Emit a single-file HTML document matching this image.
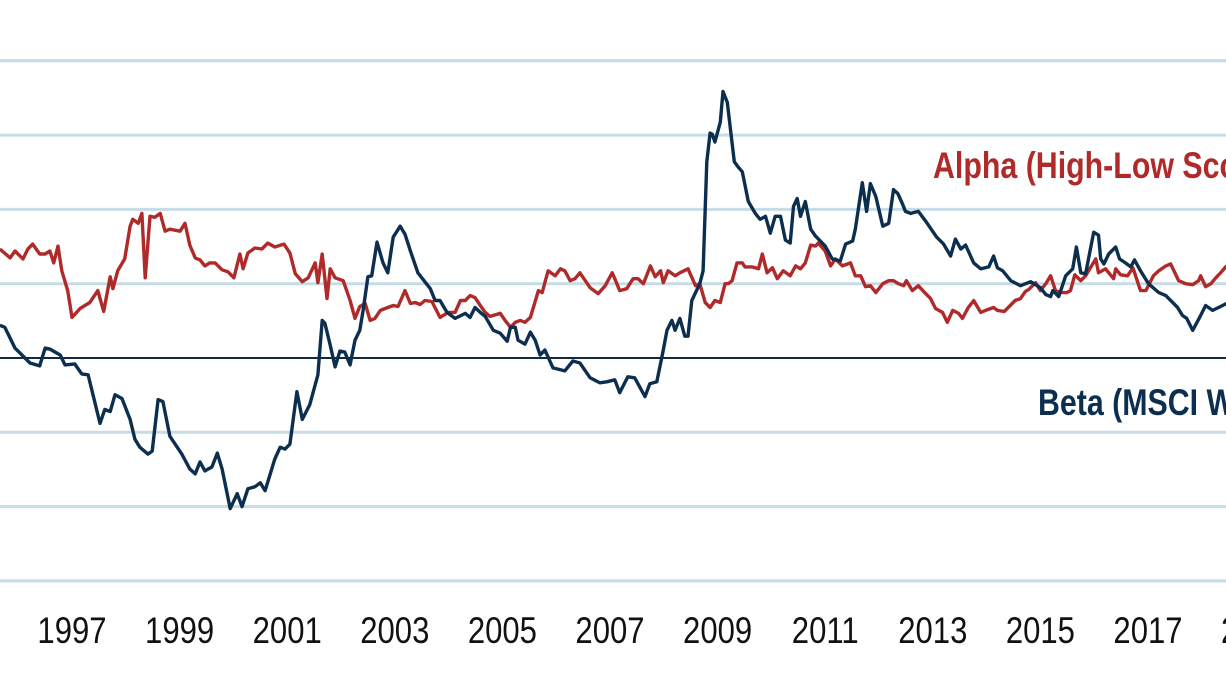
<!DOCTYPE html>
<html><head><meta charset="utf-8"><style>
html,body{margin:0;padding:0;background:#fff;width:1226px;height:690px;overflow:hidden}
svg{display:block}
</style></head><body>
<svg id="chart" width="1226" height="690" viewBox="0 0 1226 690" xmlns="http://www.w3.org/2000/svg">
<g id="grid"></g>
<g id="xaxis"></g>
<g id="series"></g>
<text x="933" y="178" font-family="Liberation Sans, sans-serif" font-weight="bold" font-size="37" fill="#b02a2a" transform="translate(933 0) scale(0.82 1) translate(-933 0)">Alpha (High-Low Score)</text>
<text x="1038" y="415" font-family="Liberation Sans, sans-serif" font-weight="bold" font-size="37" fill="#0d2f4f" transform="translate(1038 0) scale(0.82 1) translate(-1038 0)">Beta (MSCI World)</text>
</svg>
<script>
const tickYears=[1995,1997,1999,2001,2003,2005,2007,2009,2011,2013,2015,2017,2019];
const gridValues=[-225,-150,-75,75,150,225,300];
const betaDates=[1995.66,1995.75,1995.94,1996.22,1996.40,1996.50,1996.59,1996.78,1996.87,1997.05,1997.18,1997.30,1997.52,1997.61,1997.71,1997.80,1997.93,1998.08,1998.17,1998.26,1998.41,1998.49,1998.60,1998.69,1998.82,1999.04,1999.19,1999.29,1999.38,1999.47,1999.60,1999.70,1999.79,1999.94,2000.07,2000.16,2000.27,2000.40,2000.50,2000.59,2000.77,2000.87,2000.96,2001.05,2001.18,2001.28,2001.42,2001.57,2001.65,2001.70,2001.80,2001.89,2001.98,2002.07,2002.17,2002.26,2002.35,2002.41,2002.50,2002.57,2002.67,2002.78,2002.87,2002.97,2003.10,2003.19,2003.29,2003.43,2003.66,2003.75,2003.84,2003.97,2004.12,2004.31,2004.40,2004.49,2004.59,2004.68,2004.83,2004.96,2005.09,2005.15,2005.24,2005.29,2005.42,2005.52,2005.61,2005.70,2005.79,2005.94,2006.16,2006.31,2006.44,2006.63,2006.81,2006.94,2007.09,2007.18,2007.33,2007.46,2007.65,2007.74,2007.87,2007.98,2008.06,2008.15,2008.21,2008.30,2008.39,2008.45,2008.52,2008.67,2008.73,2008.80,2008.86,2008.90,2008.95,2009.05,2009.10,2009.18,2009.31,2009.38,2009.46,2009.57,2009.70,2009.79,2009.89,2009.98,2010.07,2010.17,2010.26,2010.35,2010.41,2010.48,2010.54,2010.63,2010.73,2010.82,2010.91,2011.00,2011.13,2011.28,2011.38,2011.51,2011.56,2011.69,2011.77,2011.84,2011.94,2012.07,2012.18,2012.27,2012.35,2012.44,2012.49,2012.59,2012.73,2012.87,2013.07,2013.20,2013.33,2013.42,2013.52,2013.61,2013.76,2013.89,2014.04,2014.13,2014.20,2014.30,2014.45,2014.63,2014.82,2015.00,2015.10,2015.19,2015.23,2015.34,2015.47,2015.60,2015.67,2015.75,2015.84,2015.99,2016.08,2016.12,2016.18,2016.27,2016.40,2016.47,2016.58,2016.68,2016.75,2016.86,2017.01,2017.20,2017.33,2017.46,2017.55,2017.64,2017.72,2017.83,2017.98,2018.07,2018.20,2018.35,2018.46];
const betaValues=[33,31,10,-5,-8,10,9,3,-7,-6,-16,-17,-66,-52,-54,-37,-41,-62,-82,-90,-97,-94,-42,-44,-79,-97,-112,-117,-105,-114,-110,-96,-112,-152,-137,-150,-132,-130,-126,-134,-102,-90,-92,-87,-34,-62,-47,-17,38,35,13,-9,7,6,-7,18,28,48,82,83,117,96,86,122,133,125,108,86,70,58,58,46,40,45,41,51,46,42,28,25,17,31,31,18,14,26,18,3,8,-10,-13,-3,-5,-20,-25,-24,-22,-35,-19,-20,-39,-26,-24,5,28,38,28,40,22,22,58,75,88,198,227,226,218,238,269,258,198,193,188,158,146,140,143,126,143,143,119,116,153,161,143,158,130,123,118,113,100,98,115,118,130,177,148,176,163,133,136,170,166,155,148,146,148,138,122,115,103,120,110,114,96,90,92,103,91,88,78,73,77,71,64,62,68,62,83,90,112,86,85,127,124,100,95,105,112,100,96,92,99,88,75,66,63,56,51,43,40,28,43,53,48,52,55];
const alphaDates=[1995.66,1995.85,1995.94,1996.09,1996.18,1996.27,1996.40,1996.50,1996.59,1996.66,1996.74,1996.81,1996.92,1997.00,1997.15,1997.33,1997.48,1997.59,1997.71,1997.76,1997.85,1997.98,1998.08,1998.13,1998.23,1998.30,1998.36,1998.45,1998.54,1998.64,1998.73,1998.82,1999.01,1999.10,1999.19,1999.29,1999.38,1999.47,1999.56,1999.66,1999.79,1999.90,2000.01,2000.12,2000.18,2000.27,2000.40,2000.53,2000.64,2000.77,2000.94,2001.05,2001.15,2001.28,2001.39,2001.52,2001.57,2001.65,2001.74,2001.80,2001.89,2002.04,2002.17,2002.26,2002.35,2002.45,2002.54,2002.63,2002.73,2002.87,2002.97,2003.06,2003.19,2003.29,2003.38,2003.47,2003.56,2003.69,2003.84,2003.99,2004.12,2004.22,2004.31,2004.40,2004.49,2004.59,2004.68,2004.77,2004.96,2005.05,2005.15,2005.24,2005.33,2005.42,2005.52,2005.67,2005.74,2005.85,2005.98,2006.08,2006.16,2006.26,2006.35,2006.44,2006.54,2006.63,2006.78,2006.91,2007.04,2007.09,2007.18,2007.31,2007.43,2007.52,2007.62,2007.75,2007.84,2007.94,2007.99,2008.08,2008.21,2008.30,2008.45,2008.59,2008.67,2008.77,2008.86,2008.95,2009.05,2009.14,2009.20,2009.27,2009.36,2009.46,2009.51,2009.64,2009.76,2009.83,2009.92,2010.02,2010.11,2010.22,2010.35,2010.45,2010.54,2010.63,2010.73,2010.82,2010.87,2011.00,2011.10,2011.19,2011.32,2011.47,2011.56,2011.66,2011.75,2011.84,2011.94,2012.07,2012.18,2012.27,2012.36,2012.46,2012.51,2012.62,2012.73,2012.85,2012.96,2013.05,2013.18,2013.27,2013.37,2013.48,2013.55,2013.66,2013.76,2013.89,2013.98,2014.13,2014.20,2014.33,2014.53,2014.63,2014.72,2014.78,2014.91,2015.00,2015.10,2015.19,2015.28,2015.38,2015.49,2015.56,2015.64,2015.75,2015.84,2015.93,2016.03,2016.08,2016.21,2016.36,2016.40,2016.49,2016.62,2016.72,2016.86,2016.96,2017.10,2017.20,2017.33,2017.42,2017.57,2017.70,2017.83,2017.94,2017.98,2018.07,2018.17,2018.26,2018.35,2018.46];
const alphaValues=[110,101,108,100,110,115,105,105,108,96,113,88,68,41,50,56,68,47,82,70,88,100,133,140,136,146,81,143,142,146,128,130,128,136,114,101,99,93,96,96,89,87,81,105,90,106,111,110,116,112,115,106,85,77,81,96,76,105,60,90,81,78,58,40,52,55,38,40,48,51,53,52,68,55,56,54,58,57,41,46,46,58,58,63,61,53,46,42,45,38,31,36,38,36,41,68,66,88,83,90,88,78,80,86,78,71,65,73,86,80,68,70,80,80,75,93,82,88,76,88,83,86,90,73,75,56,51,58,56,75,75,78,96,96,92,92,90,105,86,91,80,88,83,93,90,96,114,113,116,108,93,100,93,96,83,83,72,73,66,75,78,78,75,73,78,68,73,66,60,50,46,36,48,45,40,51,58,46,48,51,48,47,58,60,67,69,76,68,75,83,68,66,66,68,84,78,83,91,100,86,90,80,90,84,83,91,68,68,83,88,93,95,78,75,74,78,83,72,75,81,86,93];

const NS='http://www.w3.org/2000/svg';
function xScale(year){return 72+(year-1997)*53.8;}
function yScale(v){return 358-v*(74.3/75);}
const grid=document.getElementById('grid');
gridValues.forEach(v=>{
  const l=document.createElementNS(NS,'line');
  
  
  l.setAttribute('x1',0);l.setAttribute('x2',1226);
  l.setAttribute('y1',yScale(v));l.setAttribute('y2',yScale(v));
  l.setAttribute('stroke','#c6dce7');l.setAttribute('stroke-width','3');
  grid.appendChild(l);
});
const z=document.createElementNS(NS,'line');


z.setAttribute('x1',0);z.setAttribute('x2',1226);
z.setAttribute('y1',yScale(0));z.setAttribute('y2',yScale(0));
z.setAttribute('stroke','#0f2a44');z.setAttribute('stroke-width','2');
grid.appendChild(z);
const xa=document.getElementById('xaxis');
tickYears.forEach(yr=>{
  const t=document.createElementNS(NS,'text');
  
  
  const cx=xScale(yr);
  t.setAttribute('x',cx);t.setAttribute('y',643);
  t.setAttribute('text-anchor','middle');
  t.setAttribute('font-family','Liberation Sans, sans-serif');
  t.setAttribute('font-size','37');
  t.setAttribute('fill','#111');
  t.setAttribute('transform','translate('+cx+' 0) scale(0.84 1) translate('+(-cx)+' 0)');
  t.textContent=String(yr);
  xa.appendChild(t);
});
function drawLine(dates,vals,color,name){
  let d='';
  for(let i=0;i<dates.length;i++){d+=(i?'L':'M')+xScale(dates[i]).toFixed(1)+' '+yScale(vals[i]).toFixed(1);}
  const p=document.createElementNS(NS,'path');
  
  
  p.setAttribute('d',d);p.setAttribute('fill','none');
  p.setAttribute('stroke',color);p.setAttribute('stroke-width','3.4');
  p.setAttribute('stroke-linejoin','round');
  document.getElementById('series').appendChild(p);
}
drawLine(alphaDates,alphaValues,'#b02a2a','alpha-line');
drawLine(betaDates,betaValues,'#0d2f4f','beta-line');
</script>
</body></html>
